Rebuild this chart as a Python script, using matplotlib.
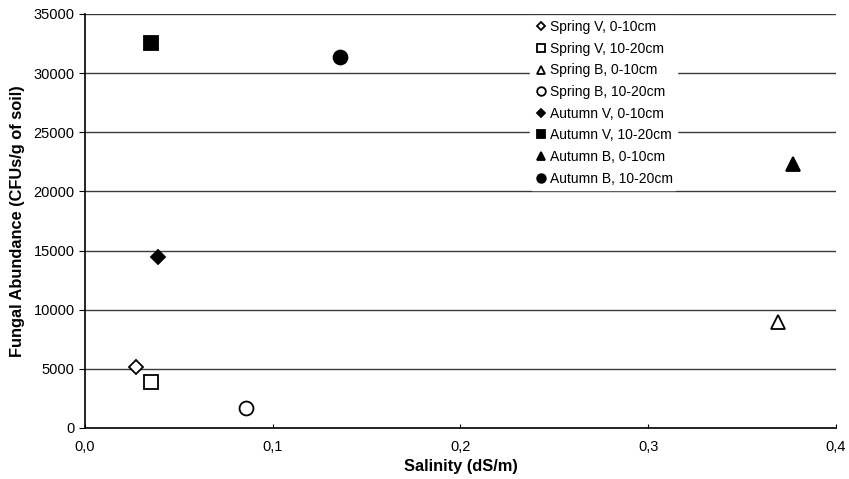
import matplotlib.pyplot as plt
from matplotlib.ticker import FuncFormatter, MultipleLocator

plt.rcParams['font.family'] = ['Liberation Sans', 'DejaVu Sans']

labels = ['Spring V, 0-10cm', 'Spring V, 10-20cm', 'Spring B, 0-10cm', 'Spring B, 10-20cm',
          'Autumn V, 0-10cm', 'Autumn V, 10-20cm', 'Autumn B, 0-10cm', 'Autumn B, 10-20cm']
salinity = [0.027, 0.035, 0.369, 0.086, 0.039, 0.035, 0.377, 0.136]
abundance = [5150, 3890, 8950, 1650, 14450, 32550, 22300, 31370]
markers = ['D', 's', '^', 'o', 'D', 's', '^', 'o']
sizes = [7, 10, 10, 10, 7, 10, 10, 10]
filled = [False, False, False, False, True, True, True, True]

fig = plt.figure(figsize=(8.49, 4.79), dpi=100)
ax = fig.add_axes([0.1001, 0.1065, 0.8846, 0.8643])

for x, y, lab, m, s, f in zip(salinity, abundance, labels, markers, sizes, filled):
    ax.plot([x], [y], linestyle='none', marker=m, markersize=s, label=lab,
            markerfacecolor='black' if f else 'white', markeredgecolor='black',
            markeredgewidth=1.3)

ax.set_xlim(0, 0.4)
ax.set_ylim(0, 35000)
ax.xaxis.set_major_locator(MultipleLocator(0.1))
ax.yaxis.set_major_locator(MultipleLocator(5000))
ax.xaxis.set_major_formatter(FuncFormatter(lambda v, p: f'{v:.1f}'.replace('.', ',')))
ax.grid(axis='y', color='#3a3a3a', linewidth=1)
ax.set_axisbelow(True)
for side in ['top', 'right']:
    ax.spines[side].set_visible(False)
ax.spines['left'].set_linewidth(1.2)
ax.spines['bottom'].set_linewidth(1.2)
ax.tick_params(axis='y', direction='out', length=4, labelsize=10.5)
ax.tick_params(axis='x', direction='in', length=3, labelsize=10.5, pad=9)

ax.set_xlabel('Salinity (dS/m)', fontweight='bold', fontsize=11.8, labelpad=3)
ax.set_ylabel('Fungal Abundance (CFUs/g of soil)', fontweight='bold', fontsize=11.8, labelpad=6)

leg = ax.legend(loc='upper left', bbox_to_anchor=(0.583, 1.012), frameon=True,
                fontsize=10, handletextpad=0.15, labelspacing=0.55, markerscale=0.62,
                borderpad=0.3, handlelength=1.0)
leg.get_frame().set_edgecolor('white')
leg.get_frame().set_facecolor('white')
leg.get_frame().set_alpha(1)

fig.savefig('out.png', dpi=100)
